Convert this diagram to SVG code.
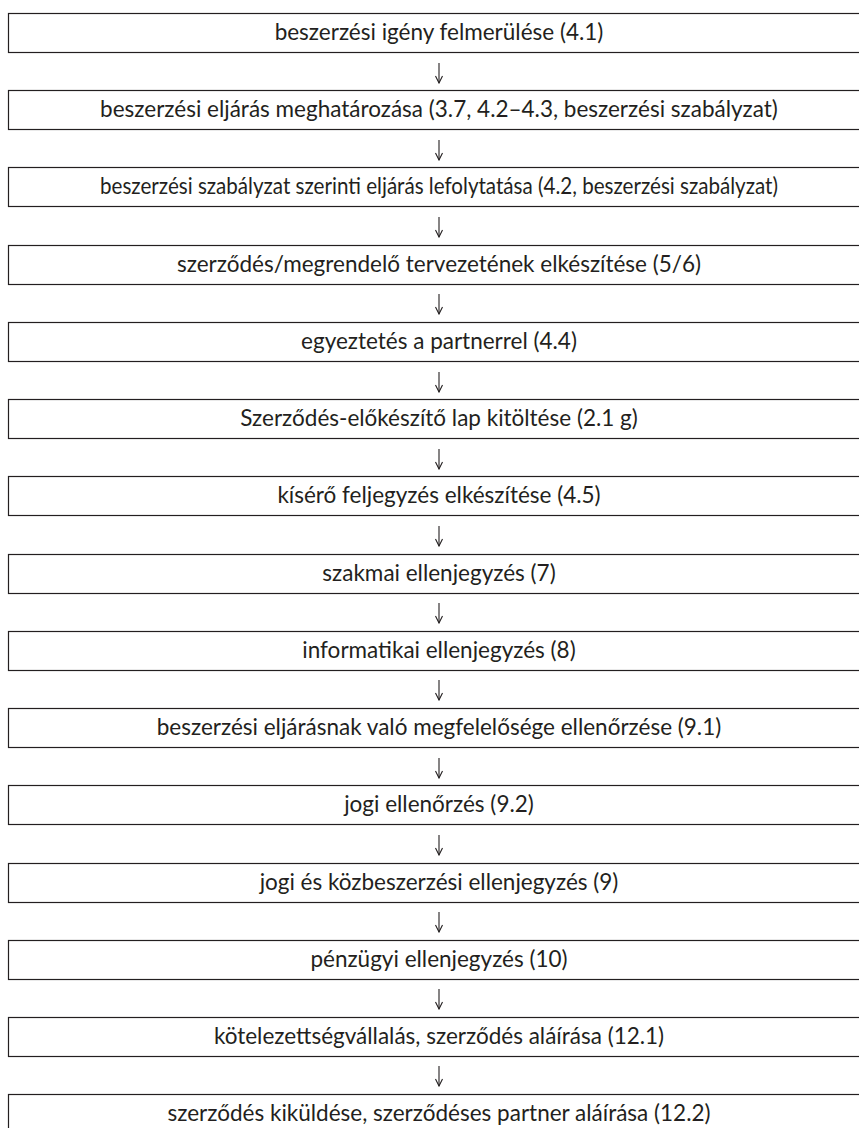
<svg xmlns="http://www.w3.org/2000/svg" width="859" height="1128" viewBox="0 0 859 1128">
<defs>
<marker id="ah" viewBox="0 0 10 10" refX="9.5" refY="5" markerWidth="10" markerHeight="10" markerUnits="userSpaceOnUse" orient="auto">
<path d="M2.5 1.5 L9.5 5 L2.5 8.5" fill="none" stroke="#231f20" stroke-width="1.1"/>
</marker>
</defs>
<style>
.box{fill:#fff;stroke:#231f20;stroke-width:1.2}
.lbl{font-family:Lato,"Open Sans","Liberation Sans",sans-serif;font-size:22.5px;fill:#231f20;text-anchor:middle}
.con{stroke:#231f20;stroke-width:1.1;fill:none}
</style>
<rect width="859" height="1128" fill="#fff"/>
<g id="connectors">
<line class="con" x1="439" y1="63" x2="439" y2="83" marker-end="url(#ah)"/>
<line class="con" x1="439" y1="140" x2="439" y2="160" marker-end="url(#ah)"/>
<line class="con" x1="439" y1="217" x2="439" y2="237" marker-end="url(#ah)"/>
<line class="con" x1="439" y1="294" x2="439" y2="314" marker-end="url(#ah)"/>
<line class="con" x1="439" y1="372" x2="439" y2="392" marker-end="url(#ah)"/>
<line class="con" x1="439" y1="449" x2="439" y2="469" marker-end="url(#ah)"/>
<line class="con" x1="439" y1="526" x2="439" y2="546" marker-end="url(#ah)"/>
<line class="con" x1="439" y1="603" x2="439" y2="623" marker-end="url(#ah)"/>
<line class="con" x1="439" y1="680" x2="439" y2="700" marker-end="url(#ah)"/>
<line class="con" x1="439" y1="758" x2="439" y2="778" marker-end="url(#ah)"/>
<line class="con" x1="439" y1="835" x2="439" y2="855" marker-end="url(#ah)"/>
<line class="con" x1="439" y1="912" x2="439" y2="932" marker-end="url(#ah)"/>
<line class="con" x1="439" y1="989" x2="439" y2="1009" marker-end="url(#ah)"/>
<line class="con" x1="439" y1="1066" x2="439" y2="1086" marker-end="url(#ah)"/>
</g>
<g id="n1"><rect class="box" x="8.5" y="13.5" width="870" height="39"/><text class="lbl" x="439" y="40">beszerzési igény felmerülése (4.1)</text></g>
<g id="n2"><rect class="box" x="8.5" y="90.5" width="870" height="39"/><text class="lbl" x="439" y="117">beszerzési eljárás meghatározása (3.7, 4.2–4.3, beszerzési szabályzat)</text></g>
<g id="n3"><rect class="box" x="8.5" y="167.5" width="870" height="39"/><text class="lbl" x="439" y="194" textLength="678" lengthAdjust="spacingAndGlyphs">beszerzési szabályzat szerinti eljárás lefolytatása (4.2, beszerzési szabályzat)</text></g>
<g id="n4"><rect class="box" x="8.5" y="245.5" width="870" height="39"/><text class="lbl" x="439" y="272">szerződés/megrendelő tervezetének elkészítése (5/6)</text></g>
<g id="n5"><rect class="box" x="8.5" y="322.5" width="870" height="39"/><text class="lbl" x="439" y="349">egyeztetés a partnerrel (4.4)</text></g>
<g id="n6"><rect class="box" x="8.5" y="399.5" width="870" height="39"/><text class="lbl" x="439" y="426">Szerződés-előkészítő lap kitöltése (2.1 g)</text></g>
<g id="n7"><rect class="box" x="8.5" y="476.5" width="870" height="39"/><text class="lbl" x="439" y="503">kísérő feljegyzés elkészítése (4.5)</text></g>
<g id="n8"><rect class="box" x="8.5" y="554.5" width="870" height="39"/><text class="lbl" x="439" y="581">szakmai ellenjegyzés (7)</text></g>
<g id="n9"><rect class="box" x="8.5" y="631.5" width="870" height="39"/><text class="lbl" x="439" y="658">informatikai ellenjegyzés (8)</text></g>
<g id="n10"><rect class="box" x="8.5" y="708.5" width="870" height="39"/><text class="lbl" x="439" y="735">beszerzési eljárásnak való megfelelősége ellenőrzése (9.1)</text></g>
<g id="n11"><rect class="box" x="8.5" y="785.5" width="870" height="39"/><text class="lbl" x="439" y="812">jogi ellenőrzés (9.2)</text></g>
<g id="n12"><rect class="box" x="8.5" y="863.5" width="870" height="39"/><text class="lbl" x="439" y="890">jogi és közbeszerzési ellenjegyzés (9)</text></g>
<g id="n13"><rect class="box" x="8.5" y="940.5" width="870" height="39"/><text class="lbl" x="439" y="967">pénzügyi ellenjegyzés (10)</text></g>
<g id="n14"><rect class="box" x="8.5" y="1017.5" width="870" height="39"/><text class="lbl" x="439" y="1044">kötelezettségvállalás, szerződés aláírása (12.1)</text></g>
<g id="n15"><rect class="box" x="8.5" y="1094.5" width="870" height="39"/><text class="lbl" x="439" y="1121">szerződés kiküldése, szerződéses partner aláírása (12.2)</text></g>
</svg>
